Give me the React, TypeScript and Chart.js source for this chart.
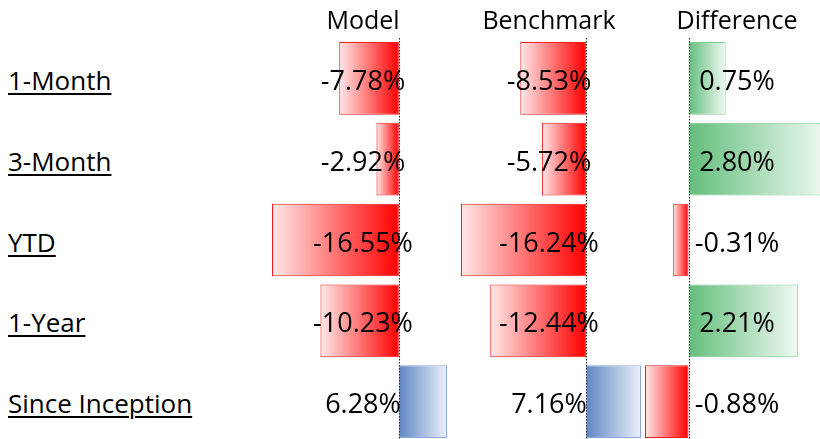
import React, { useEffect, useRef } from 'react';
import { Chart, registerables } from 'chart.js';

Chart.register(...registerables);

// ---- data ----
const rowLabels = ['1-Month', '3-Month', 'YTD', '1-Year', 'Since Inception'];
const columnTitles = ['Model', 'Benchmark', 'Difference'];
const modelValues = [-7.78, -2.92, -16.55, -10.23, 6.28];
const benchmarkValues = [-8.53, -5.72, -16.24, -12.44, 7.16];
const differenceValues = [0.75, 2.8, -0.31, 2.21, -0.88];

// ---- layout / style ----
const FONT = "'Open Sans', sans-serif";
const TOP = 38;
const ROW_H = 80.8;
const HEIGHT = Math.round(ROW_H * rowLabels.length);

const RED = { strong: '#ff0000', light: '#ffe8e8', border: '#ee1c1c' };
const BLUE = { strong: '#5f87c3', light: '#eaf0f9', border: '#8eaad8' };
const GREEN = { strong: '#63be7b', light: '#f0f9f3', border: '#7fcb94' };

type Pal = { strong: string; light: string; border: string };

const columns = [
  { title: columnTitles[0], values: modelValues, left: 272, width: 175, center: 363, pos: BLUE },
  { title: columnTitles[1], values: benchmarkValues, left: 461, width: 180, center: 549, pos: BLUE },
  { title: columnTitles[2], values: differenceValues, left: 645, width: 182, center: 737, pos: GREEN },
];

const fmt = (v: number) => v.toFixed(2) + '%';

const axisLinePlugin = {
  id: 'axisLine',
  afterDatasetsDraw(chart: any) {
    const { ctx, chartArea, scales } = chart;
    const x = Math.round(scales.x.getPixelForValue(0)) + 0.5;
    ctx.save();
    ctx.strokeStyle = '#222';
    ctx.lineWidth = 1;
    ctx.setLineDash([1.5, 1.5]);
    ctx.beginPath();
    ctx.moveTo(x, chartArea.top);
    ctx.lineTo(x, chartArea.bottom);
    ctx.stroke();
    ctx.restore();
  },
};

function BarColumn({ values, left, width, pos }: { values: number[]; left: number; width: number; pos: Pal }) {
  const ref = useRef<HTMLCanvasElement>(null);
  useEffect(() => {
    const pal = (v: number) => (v < 0 ? RED : pos);
    const chart = new Chart(ref.current as HTMLCanvasElement, {
      type: 'bar',
      data: {
        labels: rowLabels,
        datasets: [
          {
            data: values,
            backgroundColor: (c: any) => {
              const v = c.raw as number;
              const p = pal(v ?? 0);
              const chart = c.chart;
              if (!chart.chartArea || c.type !== 'data') return p.strong;
              const xs = chart.scales.x;
              const x0 = xs.getPixelForValue(0);
              const x1 = xs.getPixelForValue(v);
              const g = chart.ctx.createLinearGradient(x0, 0, x1, 0);
              g.addColorStop(0, p.strong);
              g.addColorStop(1, p.light);
              return g;
            },
            borderColor: (c: any) => pal((c.raw as number) ?? 0).border,
            borderWidth: 1,
            borderSkipped: false,
            barPercentage: 0.9,
            categoryPercentage: 1,
          } as any,
        ],
      },
      options: {
        indexAxis: 'y',
        responsive: false,
        animation: false,
        events: [],
        layout: { padding: 0 },
        plugins: { legend: { display: false }, tooltip: { enabled: false } },
        scales: {
          x: { display: false, min: Math.min(0, ...values), max: Math.max(0, ...values) },
          y: { display: false },
        },
      } as any,
      plugins: [axisLinePlugin],
    });
    return () => chart.destroy();
  }, []);
  return (
    <canvas
      ref={ref}
      width={width}
      height={HEIGHT}
      style={{ position: 'absolute', left, top: TOP, width, height: HEIGHT }}
    />
  );
}

export default function App() {
  return (
    <div
      style={{
        position: 'fixed',
        left: 0,
        top: 0,
        width: 820,
        height: 439,
        overflow: 'hidden',
        background: '#fff',
        fontFamily: FONT,
        color: '#000',
      }}
    >
      {columns.map((col, ci) => (
        <BarColumn key={'c' + ci} values={col.values} left={col.left} width={col.width} pos={col.pos} />
      ))}
      {columns.map((col, ci) => (
        <div
          key={'h' + ci}
          style={{
            position: 'absolute',
            left: col.center - 100,
            width: 200,
            top: -1,
            height: 40,
            lineHeight: '40px',
            fontSize: 25,
            textAlign: 'center',
            whiteSpace: 'nowrap',
          }}
        >
          {col.title}
        </div>
      ))}
      {rowLabels.map((lab, i) => (
        <div
          key={'r' + i}
          style={{
            position: 'absolute',
            left: 8,
            top: TOP + i * ROW_H + 2,
            height: ROW_H,
            lineHeight: ROW_H + 'px',
            fontSize: 26,
            whiteSpace: 'nowrap',
          }}
        >
          <span style={{ textDecoration: 'underline', textDecorationThickness: '2px', textUnderlineOffset: '3px' }}>
            {lab}
          </span>
        </div>
      ))}
      {columns.map((col, ci) =>
        col.values.map((v, i) => (
          <div
            key={'v' + ci + '-' + i}
            style={{
              position: 'absolute',
              left: col.center - 100,
              width: 200,
              top: TOP + i * ROW_H + 2,
              height: ROW_H,
              lineHeight: ROW_H + 'px',
              fontSize: 27,
              textAlign: 'center',
              whiteSpace: 'nowrap',
            }}
          >
            {fmt(v)}
          </div>
        ))
      )}
    </div>
  );
}
